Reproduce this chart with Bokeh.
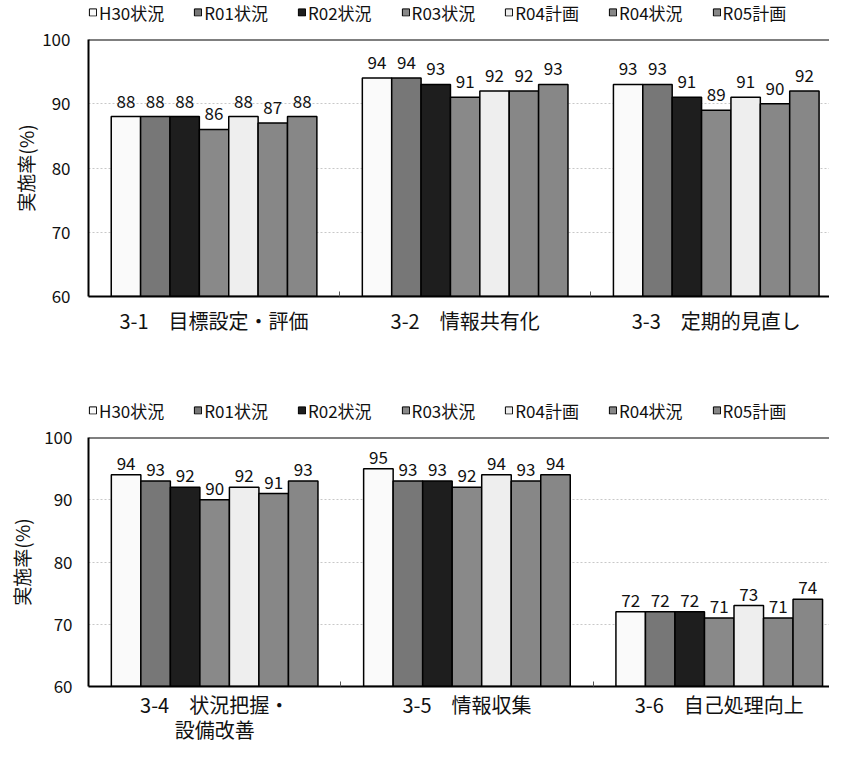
import numpy as np
from bokeh.plotting import figure
from bokeh.models import (ColumnDataSource, Range1d, FixedTicker, Legend, LegendItem, Span)
from bokeh.layouts import column
from bokeh.embed import file_html
from bokeh.resources import INLINE
from bokeh.core.properties import value

FONT = "Noto Sans CJK JP"

series = ["H30状況", "R01状況", "R02状況", "R03状況", "R04計画", "R04状況", "R05計画"]
colors = ["#fafafa", "#777777", "#1e1e1e", "#898989", "#eeeeee", "#878787", "#878787"]

cats_top = ["3-1　目標設定・評価", "3-2　情報共有化", "3-3　定期的見直し"]
vals_top = {
    "H30状況": [88, 94, 93],
    "R01状況": [88, 94, 93],
    "R02状況": [88, 93, 91],
    "R03状況": [86, 91, 89],
    "R04計画": [88, 92, 91],
    "R04状況": [87, 92, 90],
    "R05計画": [88, 93, 92],
}

cats_bot = ["3-4　状況把握・\n設備改善", "3-5　情報収集", "3-6　自己処理向上"]
vals_bot = {
    "H30状況": [94, 95, 72],
    "R01状況": [93, 93, 72],
    "R02状況": [92, 93, 72],
    "R03状況": [90, 92, 71],
    "R04計画": [92, 94, 73],
    "R04状況": [91, 93, 71],
    "R05計画": [93, 94, 74],
}

y_ticks = [60, 70, 80, 90, 100]
BAR_W = 0.117
W = 829


def make_legend_fig(height, border_left):
    p = figure(width=W, height=height, output_backend="svg", toolbar_location=None,
               x_range=Range1d(0, 1), y_range=Range1d(0, 1),
               x_axis_location=None, y_axis_location=None,
               min_border_left=border_left, min_border_right=0,
               min_border_top=0, min_border_bottom=0)
    p.outline_line_color = None
    p.grid.visible = False
    items = []
    for j, s in enumerate(series):
        # proxy renderers lie outside the visible range; only their legend glyphs show
        r = p.vbar(x=[5.0], top=[5.0], bottom=4.0, width=0.1,
                   fill_color=colors[j], line_color="black", line_width=1)
        items.append(LegendItem(label=s, renderers=[r]))
    legend = Legend(items=items, orientation="horizontal", location="left",
                    background_fill_alpha=0, border_line_color=None, padding=0, margin=0,
                    spacing=29, glyph_width=9, glyph_height=9, label_standoff=2,
                    label_text_font=FONT, label_text_font_size="17px",
                    label_text_color="#111111")
    p.add_layout(legend)
    return p


def make_chart(cats, vals, height, border_left, border_top, border_bottom, x_end,
               label_off, ytick_standoff, ylabel_standoff, xlab_standoff, xlab_lh):
    p = figure(width=W, height=height, output_backend="svg", toolbar_location=None,
               x_range=Range1d(0, x_end), y_range=Range1d(60, 100),
               min_border_left=border_left, min_border_right=0,
               min_border_top=border_top, min_border_bottom=border_bottom)
    p.outline_line_color = None

    n = len(series)
    centers = np.arange(len(cats)) + 0.5
    for j, s in enumerate(series):
        xs = centers + (j - (n - 1) / 2) * BAR_W
        src = ColumnDataSource(dict(x=xs, top=vals[s], lab=[str(v) for v in vals[s]]))
        p.vbar(x="x", top="top", bottom=60, width=BAR_W, source=src,
               fill_color=colors[j], line_color="black", line_width=1.5)
        p.text(x="x", y="top", text="lab", source=src, text_align="center",
               text_baseline="bottom", y_offset=label_off, text_font=value(FONT),
               text_font_size="17px", text_color="#111111")

    p.add_layout(Span(location=100, dimension="width", line_color="black", line_width=2))

    # y axis
    p.yaxis.ticker = FixedTicker(ticks=y_ticks)
    p.yaxis.axis_label = "実施率(%)"
    p.yaxis.axis_label_text_font = FONT
    p.yaxis.axis_label_text_font_style = "normal"
    p.yaxis.axis_label_text_font_size = "19px"
    p.yaxis.axis_label_text_color = "#111111"
    p.yaxis.axis_label_standoff = ylabel_standoff
    p.yaxis.major_label_text_font = FONT
    p.yaxis.major_label_text_font_size = "17px"
    p.yaxis.major_label_text_color = "#111111"
    p.yaxis.major_label_standoff = ytick_standoff
    p.yaxis.major_tick_in = 0
    p.yaxis.major_tick_out = 0
    p.yaxis.minor_tick_in = 0
    p.yaxis.minor_tick_out = 0
    p.yaxis.axis_line_color = "black"
    p.yaxis.axis_line_width = 2

    # x axis
    p.xaxis.ticker = FixedTicker(ticks=list(centers), minor_ticks=list(np.arange(1, len(cats))))
    p.xaxis.major_label_overrides = {float(c): cats[i] for i, c in enumerate(centers)}
    p.xaxis.major_label_text_font = FONT
    p.xaxis.major_label_text_font_size = "20px"
    p.xaxis.major_label_text_color = "#111111"
    p.xaxis.major_label_text_line_height = xlab_lh
    p.xaxis.major_label_standoff = xlab_standoff
    p.xaxis.major_tick_in = 0
    p.xaxis.major_tick_out = 0
    p.xaxis.minor_tick_in = 5
    p.xaxis.minor_tick_out = 0
    p.xaxis.minor_tick_line_color = "#555555"
    p.xaxis.axis_line_color = "black"
    p.xaxis.axis_line_width = 2

    p.xgrid.grid_line_color = None
    p.ygrid.ticker = FixedTicker(ticks=[70, 80, 90])
    p.ygrid.grid_line_color = "#c8c8c8"
    p.ygrid.grid_line_dash = "2 2"
    p.ygrid.grid_line_width = 1
    return p


leg1 = make_legend_fig(height=24, border_left=88)
p1 = make_chart(cats_top, vals_top, height=374, border_left=78, border_top=15, border_bottom=102,
                x_end=2.951, label_off=-9, ytick_standoff=18, ylabel_standoff=0,
                xlab_standoff=9, xlab_lh=0.9)
leg2 = make_legend_fig(height=24, border_left=88)
p2 = make_chart(cats_bot, vals_bot, height=325, border_left=86, border_top=15, border_bottom=56,
                x_end=2.937, label_off=-5, ytick_standoff=16, ylabel_standoff=6,
                xlab_standoff=3, xlab_lh=0.88)

layout = column(leg1, p1, leg2, p2, spacing=0)
open("out.html", "w").write(file_html(layout, INLINE))
